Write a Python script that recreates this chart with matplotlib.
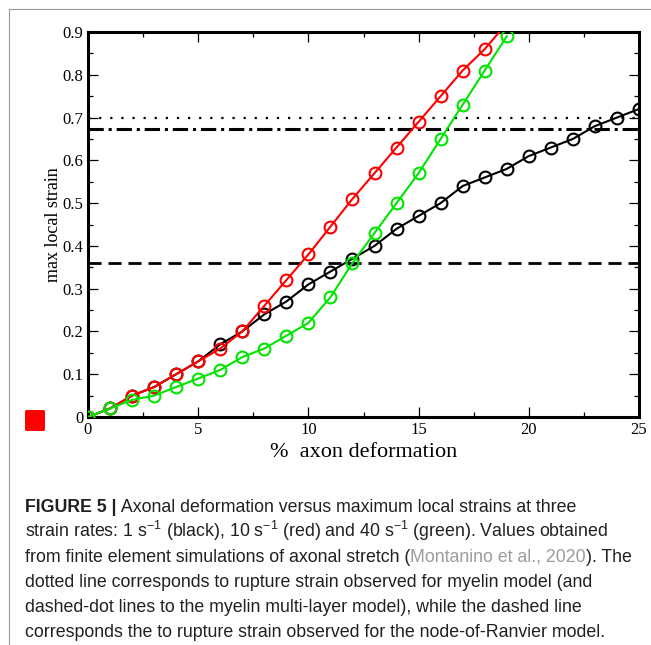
import matplotlib
matplotlib.use('Agg')
import matplotlib.pyplot as plt
from matplotlib.patches import FancyBboxPatch
from matplotlib.lines import Line2D
from matplotlib.ticker import MultipleLocator

# axonal deformation (%) and max local strain for the three strain rates
deformation = list(range(0, 26))
strain_1 = [0, 0.02, 0.05, 0.07, 0.10, 0.13, 0.17, 0.20, 0.24, 0.27, 0.31, 0.34, 0.37,
            0.40, 0.44, 0.47, 0.50, 0.54, 0.56, 0.58, 0.61, 0.63, 0.65, 0.68, 0.70, 0.72]
strain_10 = [0, 0.02, 0.05, 0.07, 0.10, 0.13, 0.16, 0.20, 0.26, 0.32, 0.38, 0.445, 0.51,
             0.57, 0.63, 0.69, 0.75, 0.81, 0.86, 0.92]
strain_40 = [0, 0.02, 0.04, 0.05, 0.07, 0.09, 0.11, 0.14, 0.16, 0.19, 0.22, 0.28, 0.36,
             0.43, 0.50, 0.57, 0.65, 0.73, 0.81, 0.89]

# rupture strains
rupture_myelin = 0.70
rupture_multilayer = 0.673
rupture_ranvier = 0.36

x_ticks = [0, 5, 10, 15, 20, 25]
y_ticks = [0, 0.1, 0.2, 0.3, 0.4, 0.5, 0.6, 0.7, 0.8, 0.9]
y_ticklabels = ["0", "0.1", "0.2", "0.3", "0.4", "0.5", "0.6", "0.7", "0.8", "0.9"]

caption = [
    [("FIGURE 5 |", "bold"), (" Axonal deformation versus maximum local strains at three", "normal")],
    [("strain rates: 1 s$^{-1}$ (black), 10 s$^{-1}$ (red) and 40 s$^{-1}$ (green). Values obtained", "normal")],
    [("from finite element simulations of axonal stretch (", "normal"), ("Montanino et al., 2020", "cite"),
     ("). The", "normal")],
    [("dotted line corresponds to rupture strain observed for myelin model (and", "normal")],
    [("dashed-dot lines to the myelin multi-layer model), while the dashed line", "normal")],
    [("corresponds the to rupture strain observed for the node-of-Ranvier model.", "normal")],
]

CAP_FONT = ['Liberation Sans', 'DejaVu Sans']
plt.rcParams['mathtext.fontset'] = 'custom'
plt.rcParams['mathtext.rm'] = CAP_FONT[0]
plt.rcParams['mathtext.it'] = CAP_FONT[0]
plt.rcParams['mathtext.bf'] = CAP_FONT[0]

W, H = 651, 645
fig = plt.figure(figsize=(W / 100, H / 100), dpi=100)
ax = fig.add_axes([88 / W, 1 - 417 / H, 551 / W, 385 / H])

ax.plot(deformation, strain_1, color='black', lw=1.5, marker='o', ms=8.5, mfc='none', mew=1.5, zorder=3)
ax.plot(deformation[:len(strain_10)], strain_10, color='#ff0000', lw=1.5, marker='o', ms=8.5,
        mfc='none', mew=1.5, zorder=4)
ax.plot(deformation[:len(strain_40)], strain_40, color='#00e400', lw=1.5, marker='o', ms=8.5,
        mfc='none', mew=1.5, zorder=5)

ax.axhline(rupture_myelin, color='black', lw=1.6, dashes=(1, 4), zorder=2)
ax.axhline(rupture_multilayer, color='black', lw=2.2, dashes=(5, 1.6, 1, 1.6), zorder=2)
ax.axhline(rupture_ranvier, color='black', lw=2.0, dashes=(4.7, 2.5), zorder=2)

ax.set_xlim(0, 25)
ax.set_ylim(0, 0.9)
ax.set_xticks(x_ticks)
ax.set_yticks(y_ticks)
ax.set_yticklabels(y_ticklabels)
ax.xaxis.set_minor_locator(MultipleLocator(2.5))
ax.yaxis.set_minor_locator(MultipleLocator(0.05))
ax.tick_params(which='both', direction='in', top=True, right=True, width=0.9)
ax.tick_params(which='major', length=7.5, pad=3.5, labelsize=12)
ax.tick_params(which='minor', length=3.5)
for lab in ax.get_xticklabels() + ax.get_yticklabels():
    lab.set_family('Liberation Serif')
for sp in ax.spines.values():
    sp.set_linewidth(2.2)

ax.set_xlabel("%  axon deformation", family='Liberation Serif', fontsize=16, labelpad=4)
ax.set_ylabel("max local strain", family='Liberation Serif', fontsize=13, labelpad=0)

# red square left of the axes (slightly rounded)
fig.patches.append(FancyBboxPatch((26 / W, 1 - 430 / H), 18 / W, 19 / H,
                                  boxstyle="round,pad=0.0015,rounding_size=0.002",
                                  transform=fig.transFigure, facecolor='#ff0000', edgecolor='none'))

# page frame
fig.lines.append(Line2D([9 / W, 1], [1 - 9 / H, 1 - 9 / H], transform=fig.transFigure, color='#9a9a9a', lw=0.8))
fig.lines.append(Line2D([9 / W, 9 / W], [0, 1 - 9 / H], transform=fig.transFigure, color='#9a9a9a', lw=0.8))

# caption, one segment after another
renderer = fig.canvas.get_renderer()
styles = {"bold": dict(weight='bold', color='#231f20'),
          "normal": dict(weight='normal', color='#231f20'),
          "cite": dict(weight='normal', color='#9b9b9b')}
baseline = 512
for line in caption:
    x = 25 / W
    for txt, st in line:
        t = fig.text(x, 1 - baseline / H, txt, family=CAP_FONT, fontsize=12.8, va='baseline', **styles[st])
        x += t.get_window_extent(renderer).width / fig.bbox.width
    baseline += 25

fig.savefig("out.png", dpi=100)
